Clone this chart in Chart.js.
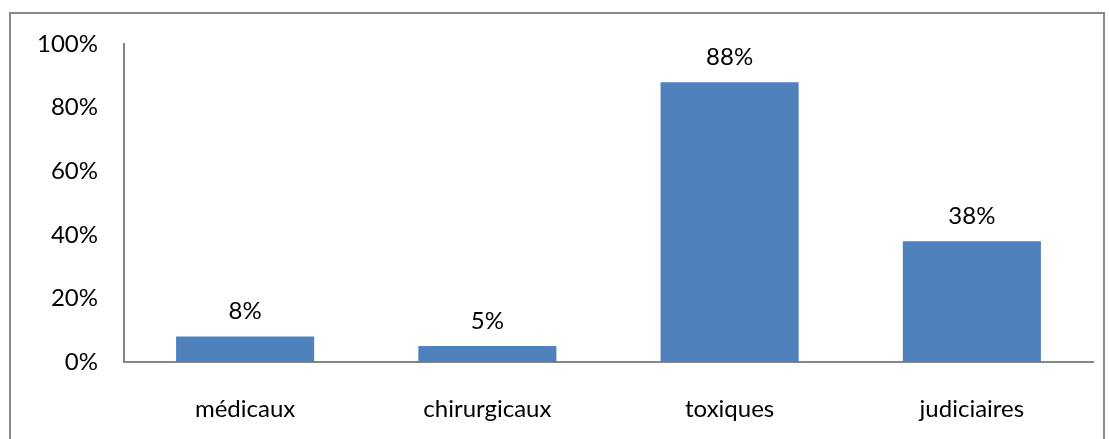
<!DOCTYPE html>
<html>
<head>
<meta charset="utf-8">
<script src="https://cdn.jsdelivr.net/npm/chart.js@4"></script>
<style>
body{margin:0;background:#fff;}
#frame{position:absolute;left:9px;top:12px;width:1092px;height:440px;border:2px solid #898989;}
#wrap{position:absolute;left:0;top:0;width:1109px;height:439px;}
</style>
</head>
<body>
<div id="frame"></div>
<div id="wrap"><canvas id="chart"></canvas></div>
<script>
const categories=['médicaux','chirurgicaux','toxiques','judiciaires']
const values=[8,5,88,38]
const yTicks=[0,20,40,60,80,100]

const barLabels={
    id:'barLabels',
    afterDatasetsDraw(chart){
        const ctx=chart.ctx
        ctx.save()
        ctx.font='24px Lato'
        ctx.fillStyle='#000'
        ctx.textAlign='center'
        ctx.textBaseline='middle'
        chart.getDatasetMeta(0).data.forEach((bar,i)=>{
            ctx.fillText(values[i]+'%',bar.x,bar.y-25)
        })
        ctx.restore()
    }
}

new Chart(document.querySelector('#chart'),{
    type:'bar',
    data:{
        labels:categories,
        datasets:[{
            data:values,
            backgroundColor:'#4F81BD',
            barPercentage:0.57,
            categoryPercentage:1
        }]
    },
    options:{
        responsive:true,
        maintainAspectRatio:false,
        animation:false,
        layout:{padding:{top:44,right:16,left:0,bottom:0}},
        plugins:{legend:{display:false},tooltip:{enabled:false}},
        scales:{
            x:{
                grid:{display:false,drawTicks:false},
                border:{color:'#868686',width:2},
                ticks:{color:'#000',font:{family:'Lato',size:24},padding:33,maxRotation:0},
                afterFit:s=>{s.height=77}
            },
            y:{
                min:0,max:100,
                grid:{display:false,drawTicks:false},
                border:{color:'#868686',width:2},
                afterBuildTicks:s=>{s.ticks=yTicks.map(v=>({value:v}))},
                ticks:{color:'#000',font:{family:'Lato',size:24},padding:26,callback:v=>v+'%'},
                afterFit:s=>{s.width=124}
            }
        }
    },
    plugins:[barLabels]
})
</script>
</body>
</html>
